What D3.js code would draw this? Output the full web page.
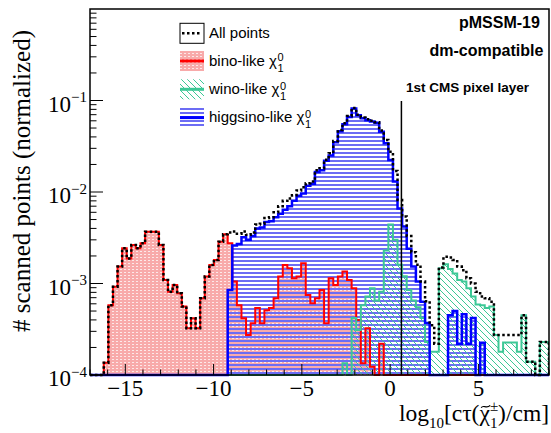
<!DOCTYPE html>
<html>
<head>
<meta charset="utf-8">
<script src="https://cdn.jsdelivr.net/npm/d3@7"></script>
<style>
  body { margin: 0; background: #ffffff; }
  svg { display: block; }
</style>
</head>
<body>
<div id="chart"></div>
<script>
// Binning of log10(c*tau / cm)
const nBins = 100;
const xRange = [-17, 9];
const yRange = [1e-4, 1];
const xMajorTicks = [-15, -10, -5, 0, 5];
const yMajorTicks = [1e-4, 1e-3, 1e-2, 1e-1];
const yTickExponents = ["−4", "−3", "−2", "−1"];
const pixelLayerPos = 0.64;

// Normalized fractions of scanned points per bin
const allPoints = [
  0, 0, 0, 1.36e-4, 5.8e-4, 9.2e-4, 1.53e-3, 2.43e-3, 1.88e-3, 2.64e-3,
  2.43e-3, 2.75e-3, 3.68e-3, 3.68e-3, 3.68e-3, 2.64e-3, 1.09e-3, 8.1e-4, 9.6e-4, 7.8e-4,
  5.6e-4, 3.24e-4, 4.17e-4, 3.24e-4, 6.9e-4, 1.19e-3, 1.59e-3, 1.81e-3, 2.86e-3, 3.45e-3,
  3.6e-3, 3.7e-3, 3.5e-3, 3.7e-3, 3.4e-3, 3.6e-3, 4.4e-3, 4.5e-3, 5.2e-3, 5.3e-3,
  6.0e-3, 7.0e-3, 8.0e-3, 8.5e-3, 9.2e-3, 1.04e-2, 1.13e-2, 1.25e-2, 1.30e-2, 1.73e-2,
  1.82e-2, 2.25e-2, 2.65e-2, 3.6e-2, 4.75e-2, 5.65e-2, 6.75e-2, 8.3e-2, 7.0e-2, 6.5e-2,
  6.25e-2, 6.0e-2, 5.8e-2, 4.7e-2, 3.7e-2, 2.75e-2, 1.7e-2, 8.2e-3, 5.4e-3, 3.3e-3,
  2.2e-3, 1.6e-3, 1.05e-3, 6.4e-4, 3.5e-4, 2.2e-4, 1.5e-3, 1.96e-3, 1.92e-3, 1.81e-3,
  1.53e-3, 1.4e-3, 1.14e-3, 1.0e-3, 8.1e-4, 7.2e-4, 6.9e-4, 6.3e-4, 2.74e-4, 2.74e-4,
  2.74e-4, 2.74e-4, 2.74e-4, 2.74e-4, 4.5e-4, 1.4e-4, 1.4e-4, 0, 2.3e-4, 2.3e-4
];
const binoLike = [
  0, 0, 0, 1.36e-4, 5.8e-4, 9.2e-4, 1.53e-3, 2.43e-3, 1.88e-3, 2.64e-3,
  2.43e-3, 2.75e-3, 3.68e-3, 3.68e-3, 3.68e-3, 2.64e-3, 1.09e-3, 8.1e-4, 9.6e-4, 7.8e-4,
  5.6e-4, 3.24e-4, 4.17e-4, 3.24e-4, 6.9e-4, 1.19e-3, 1.59e-3, 1.81e-3, 2.86e-3, 3.45e-3,
  2.75e-3, 1.05e-3, 5.8e-4, 4.17e-4, 2.74e-4, 3.67e-4, 5.4e-4, 3.67e-4, 5.1e-4, 5.4e-4,
  6.9e-4, 1.19e-3, 1.59e-3, 1.47e-3, 1.14e-3, 1.19e-3, 1.66e-3, 7.5e-4, 6.1e-4, 6.9e-4,
  8.5e-4, 3.67e-4, 1.14e-3, 9.6e-4, 1.19e-3, 1.35e-3, 1.09e-3, 8.9e-4, 4.0e-4, 1.34e-4,
  3.24e-4, 1.23e-4, 0, 2.2e-4, 0, 0, 0, 0, 0, 0,
  0, 0, 0, 0, 0, 0, 0, 0, 0, 0,
  0, 0, 0, 0, 0, 0, 0, 0, 0, 0,
  0, 0, 0, 0, 0, 0, 0, 0, 0, 0
];
const winoLike = [
  0, 0, 0, 0, 0, 0, 0, 0, 0, 0,
  0, 0, 0, 0, 0, 0, 0, 0, 0, 0,
  0, 0, 0, 0, 0, 0, 0, 0, 0, 0,
  0, 0, 0, 0, 0, 0, 0, 0, 0, 0,
  0, 0, 0, 0, 0, 0, 0, 0, 0, 0,
  0, 0, 0, 0, 0, 1.34e-4, 0, 4.2e-4, 3.1e-4, 5.8e-4,
  7.2e-4, 8.9e-4, 6.5e-4, 8.1e-4, 2.3e-3, 4.4e-3, 3.0e-3, 1.6e-3, 1.2e-3, 8.5e-4,
  6.5e-4, 5.5e-4, 4.2e-4, 2.3e-4, 1.8e-4, 1.8e-4, 1.47e-3, 1.62e-3, 1.44e-3, 1.29e-3,
  1.09e-3, 1.05e-3, 8.9e-4, 7.2e-4, 5.9e-4, 5.8e-4, 5.4e-4, 5.6e-4, 2.74e-4, 1.8e-4,
  2.27e-4, 2.27e-4, 2.27e-4, 1.8e-4, 4.5e-4, 1.4e-4, 1.4e-4, 0, 2.3e-4, 2.3e-4
];
const higgsinoLike = [
  0, 0, 0, 0, 0, 0, 0, 0, 0, 0,
  0, 0, 0, 0, 0, 0, 0, 0, 0, 0,
  0, 0, 0, 0, 0, 0, 0, 0, 0, 0,
  8.5e-4, 2.6e-3, 2.7e-3, 3.2e-3, 3.0e-3, 3.3e-3, 4.0e-3, 4.1e-3, 4.7e-3, 4.8e-3,
  5.3e-3, 5.8e-3, 6.4e-3, 7.0e-3, 8.0e-3, 9.1e-3, 9.6e-3, 1.17e-2, 1.23e-2, 1.65e-2,
  1.73e-2, 2.2e-2, 2.5e-2, 3.5e-2, 4.6e-2, 5.5e-2, 6.6e-2, 8.2e-2, 6.9e-2, 6.4e-2,
  6.1e-2, 5.9e-2, 5.7e-2, 4.56e-2, 3.4e-2, 2.24e-2, 1.3e-2, 6.6e-3, 4.2e-3, 2.4e-3,
  1.53e-3, 1.05e-3, 6.3e-4, 3.7e-4, 0, 0, 0, 0, 4.5e-4, 5.0e-4,
  2.2e-4, 4.6e-4, 2.2e-4, 4.2e-4, 0, 2.25e-4, 0, 0, 0, 0,
  0, 0, 0, 0, 0, 0, 0, 0, 0, 0
];

const drawChart = () => {

  /*******************************/
  /*    Declare the constants    */
  /*******************************/
  const width = 551;
  const height = 433;
  const frame = {left: 90, right: 549, top: 9, bottom: 375};

  const red = "#ff0000";
  const blue = "#0000ff";
  const teal = "#3cc896";
  const serif = "'Liberation Serif', 'Times New Roman', serif";
  const sans = "'Liberation Sans', Arial, Helvetica, sans-serif";

  const svg = d3.select("#chart")
    .append("svg")
      .attr("width", width)
      .attr("height", height)
      .attr("viewBox", `0 0 ${width} ${height}`);

  /****************************/
  /*    Declare the scales    */
  /****************************/
  const xScale = d3.scaleLinear()
    .domain(xRange)
    .range([frame.left, frame.right]);
  const yScale = d3.scaleLog()
    .domain(yRange)
    .range([frame.bottom, frame.top]);
  const yOf = v => v > yRange[0] ? yScale(v) : frame.bottom;

  const edges = d3.range(nBins + 1)
    .map(i => xRange[0] + i * (xRange[1] - xRange[0]) / nBins);

  // Step outline of a histogram
  const stepPath = (values, close) => {
    let d = `M${xScale(edges[0])},${frame.bottom}`;
    values.forEach((v, i) => {
      d += `V${yOf(v)}H${xScale(edges[i + 1])}`;
    });
    d += `V${frame.bottom}`;
    return close ? d + "Z" : d;
  };

  /****************************/
  /*     Fill patterns        */
  /****************************/
  const defs = svg.append("defs");

  const pBino = defs.append("pattern")
    .attr("id", "fill-bino")
    .attr("patternUnits", "userSpaceOnUse")
    .attr("width", 4).attr("height", 3);
  pBino.append("rect").attr("width", 4).attr("height", 3).attr("fill", "#f8aaaa");
  pBino.append("rect").attr("x", 0).attr("y", 2).attr("width", 2).attr("height", 1).attr("fill", "#fde8e8");

  const pHiggs = defs.append("pattern")
    .attr("id", "fill-higgsino")
    .attr("patternUnits", "userSpaceOnUse")
    .attr("width", 8).attr("height", 4);
  pHiggs.append("rect").attr("y", 0).attr("width", 8).attr("height", 2).attr("fill", "#6c6cf4");

  const pWino = defs.append("pattern")
    .attr("id", "fill-wino")
    .attr("patternUnits", "userSpaceOnUse")
    .attr("width", 6).attr("height", 6);
  pWino.append("path")
    .attr("d", "M0,0L6,6M-1,5L1,7M5,-1L7,1")
    .attr("stroke", teal)
    .attr("stroke-width", 1)
    .attr("fill", "none");

  defs.append("clipPath")
    .attr("id", "plot-clip")
    .append("rect")
      .attr("x", frame.left)
      .attr("y", frame.top)
      .attr("width", frame.right - frame.left)
      .attr("height", frame.bottom - frame.top + 3);

  /****************************/
  /*     Histograms           */
  /****************************/
  const plot = svg.append("g").attr("clip-path", "url(#plot-clip)");

  plot.append("path")
    .attr("d", stepPath(binoLike, true))
    .attr("fill", "url(#fill-bino)");
  plot.append("path")
    .attr("d", stepPath(higgsinoLike, true))
    .attr("fill", "url(#fill-higgsino)");
  plot.append("path")
    .attr("d", stepPath(winoLike, true))
    .attr("fill", "url(#fill-wino)");

  plot.append("path")
    .attr("d", stepPath(binoLike, false))
    .attr("fill", "none")
    .attr("stroke", red)
    .attr("stroke-width", 2);
  plot.append("path")
    .attr("d", stepPath(winoLike, false))
    .attr("fill", "none")
    .attr("stroke", teal)
    .attr("stroke-width", 2);
  plot.append("path")
    .attr("d", stepPath(higgsinoLike, false))
    .attr("fill", "none")
    .attr("stroke", blue)
    .attr("stroke-width", 2.5);
  plot.append("path")
    .attr("d", stepPath(allPoints, false))
    .attr("fill", "none")
    .attr("stroke", "#000")
    .attr("stroke-width", 2.5)
    .attr("stroke-dasharray", "2.5,2.5");

  // 1st CMS pixel layer
  svg.append("line")
    .attr("x1", xScale(pixelLayerPos))
    .attr("x2", xScale(pixelLayerPos))
    .attr("y1", 101)
    .attr("y2", frame.bottom)
    .attr("stroke", "#000")
    .attr("stroke-width", 1.5);

  /***************************/
  /*     Append the axes     */
  /***************************/
  const xMinor = d3.range(xRange[0], xRange[1] + 1).filter(v => !xMajorTicks.includes(v));
  const yMinor = [];
  [-4, -3, -2, -1].forEach(e => d3.range(2, 10).forEach(k => yMinor.push(k * Math.pow(10, e))));

  const axes = svg.append("g").attr("stroke", "#000").attr("stroke-width", 1);
  axes.selectAll(".xmaj").data(xMajorTicks).join("line")
    .attr("x1", d => xScale(d)).attr("x2", d => xScale(d))
    .attr("y1", frame.bottom).attr("y2", frame.bottom - 11);
  axes.selectAll(".xmin").data(xMinor).join("line")
    .attr("x1", d => xScale(d)).attr("x2", d => xScale(d))
    .attr("y1", frame.bottom).attr("y2", frame.bottom - 5.5);
  axes.selectAll(".ymaj").data(yMajorTicks).join("line")
    .attr("x1", frame.left).attr("x2", frame.left + 13)
    .attr("y1", d => yScale(d)).attr("y2", d => yScale(d));
  axes.selectAll(".ymin").data(yMinor).join("line")
    .attr("x1", frame.left).attr("x2", frame.left + 6.5)
    .attr("y1", d => yScale(d)).attr("y2", d => yScale(d));

  // Frame
  svg.append("rect")
    .attr("x", frame.left)
    .attr("y", frame.top)
    .attr("width", frame.right - frame.left)
    .attr("height", frame.bottom - frame.top)
    .attr("fill", "none")
    .attr("stroke", "#000")
    .attr("stroke-width", 1.5);

  // X tick labels
  svg.selectAll(".xlabel").data(xMajorTicks).join("text")
    .attr("x", d => xScale(d))
    .attr("y", 396)
    .attr("text-anchor", "middle")
    .attr("font-family", serif)
    .attr("font-size", 23)
    .text(d => d < 0 ? "−" + Math.abs(d) : d);

  // Y tick labels: 10^n
  const yLabels = svg.selectAll(".ylabel").data(yMajorTicks).join("text")
    .attr("x", 87)
    .attr("y", d => yScale(d) + 11)
    .attr("text-anchor", "end")
    .attr("font-family", serif)
    .attr("font-size", 23);
  yLabels.append("tspan").text("10");
  yLabels.append("tspan")
    .attr("dy", -9.5)
    .attr("font-size", 15)
    .text((d, i) => yTickExponents[i]);

  // Y axis title
  svg.append("text")
    .attr("transform", "translate(30,30) rotate(-90)")
    .attr("text-anchor", "end")
    .attr("font-family", serif)
    .attr("font-size", 25)
    .text("# scanned points (normalized)");

  /***************************/
  /*     X axis title        */
  /***************************/
  const measure = (str, size, family) => {
    const t = svg.append("text").attr("font-family", family).attr("font-size", size).text(str);
    const w = t.node().getComputedTextLength();
    t.remove();
    return w;
  };
  const base = 420.5;
  const big = 23.5, small = 15;
  const wLog = measure("log", big, serif);
  const w10 = measure("10", small, serif);
  const wOpen = measure("[cτ(", big, serif);
  const wChi = measure("χ", big, serif);
  const wPm = measure("±", small, serif);
  const w1 = measure("1", small, serif);
  const wClose = measure(")/cm]", big, serif);
  const wScript = Math.max(wPm, w1);
  const total = wLog + w10 + wOpen + wChi + wScript + wClose;
  const x0 = frame.right - total;
  const chiX = x0 + wLog + w10 + wOpen;

  const xTitle = svg.append("text")
    .attr("x", x0)
    .attr("y", base)
    .attr("font-family", serif)
    .attr("font-size", big);
  xTitle.append("tspan").text("log");
  xTitle.append("tspan").attr("font-size", small).attr("dy", 7).text("10");
  xTitle.append("tspan").attr("dy", -7).text("[cτ(");
  xTitle.append("tspan").text("χ");
  xTitle.append("tspan").attr("font-size", small).attr("dy", -10).text("±");
  xTitle.append("tspan").attr("font-size", small).attr("x", chiX + wChi).attr("dy", 17).text("1");
  xTitle.append("tspan").attr("x", chiX + wChi + wScript).attr("dy", -7).text(")/cm]");

  // tilde over chi
  const tx = chiX + wChi / 2 + 1, ty = base - 14;
  svg.append("path")
    .attr("d", `M${tx - 4.5},${ty + 1.2}C${tx - 2.5},${ty - 2.5} ${tx + 1},${ty + 3} ${tx + 4.5},${ty - 1.2}`)
    .attr("fill", "none")
    .attr("stroke", "#000")
    .attr("stroke-width", 1.1);

  /************************/
  /*      Legend          */
  /************************/
  const legend = svg.append("g");
  const iconX = 180, iconW = 24, iconH = 20;
  const entries = [
    {label: "All points", cy: 33.3, fill: "#fff", stroke: "#000", dash: "2.5,2.5", border: true},
    {label: "bino-like χ", cy: 61, fill: "url(#fill-bino)", stroke: red, chi: true},
    {label: "wino-like χ", cy: 89.3, fill: "url(#fill-wino)", stroke: teal, chi: true},
    {label: "higgsino-like χ", cy: 117.6, fill: "url(#fill-higgsino)", stroke: blue, chi: true}
  ];
  entries.forEach(e => {
    legend.append("rect")
      .attr("x", iconX).attr("y", e.cy - iconH / 2)
      .attr("width", iconW).attr("height", iconH)
      .attr("fill", e.fill)
      .attr("stroke", e.border ? "#000" : "none")
      .attr("stroke-width", 1);
    legend.append("line")
      .attr("x1", e.border ? iconX + 2 : iconX).attr("x2", e.border ? iconX + iconW - 2 : iconX + iconW)
      .attr("y1", e.cy).attr("y2", e.cy)
      .attr("stroke", e.stroke)
      .attr("stroke-width", e.border ? 2.5 : 3)
      .attr("stroke-dasharray", e.dash || null);
    const tb = e.cy + 4.8;
    const label = legend.append("text")
      .attr("x", 209).attr("y", tb)
      .attr("font-family", sans).attr("font-size", 15);
    label.append("tspan").text(e.label);
    if (e.chi) {
      const w = measure(e.label, 15, sans);
      label.append("tspan")
        .attr("x", 209 + w + 0.5).attr("dy", -4.5)
        .attr("font-size", 11)
        .text("0");
      label.append("tspan")
        .attr("x", 209 + w + 0.5).attr("dy", 10.5)
        .attr("font-size", 11)
        .text("1");
    }
  });

  /************************/
  /*      Labels          */
  /************************/
  svg.append("text")
    .attr("x", 459).attr("y", 28.3)
    .attr("font-family", sans).attr("font-weight", "bold").attr("font-size", 16)
    .text("pMSSM-19");
  svg.append("text")
    .attr("x", 429.5).attr("y", 55.5)
    .attr("font-family", sans).attr("font-weight", "bold").attr("font-size", 16)
    .text("dm-compatible");
  svg.append("text")
    .attr("x", 406).attr("y", 91.5)
    .attr("font-family", sans).attr("font-weight", "bold").attr("font-size", 13.5)
    .text("1st CMS pixel layer");
};

drawChart();
</script>
</body>
</html>
